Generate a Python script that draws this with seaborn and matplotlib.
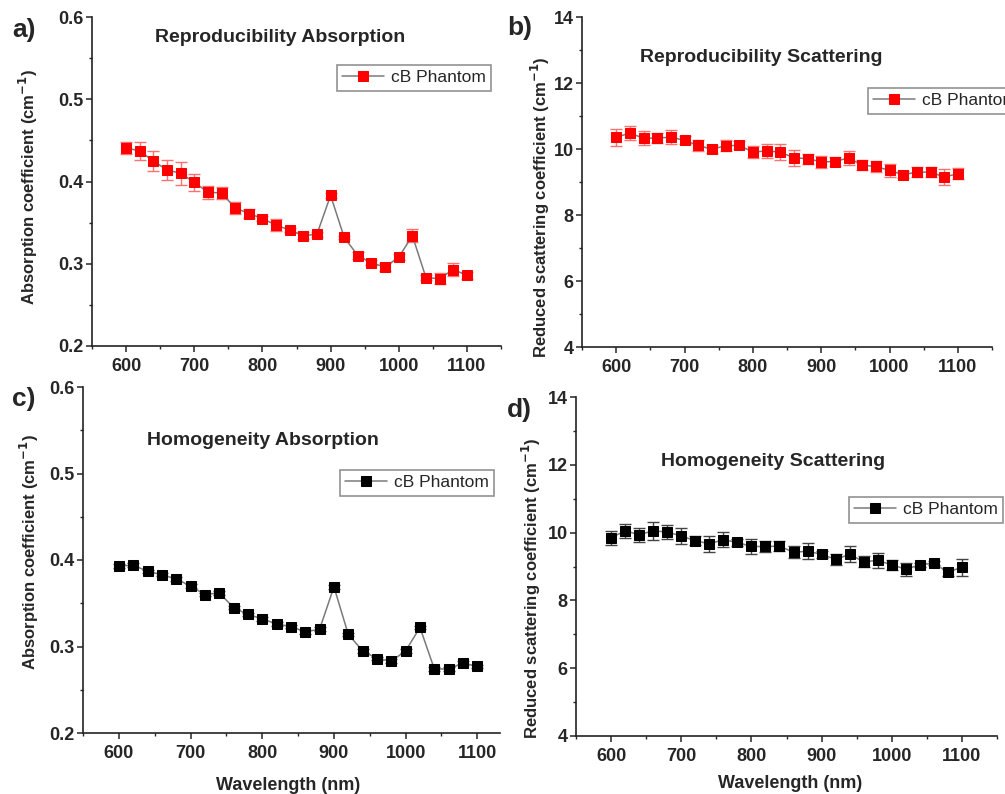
import matplotlib
matplotlib.use("Agg")
import matplotlib.pyplot as plt
import seaborn as sb
import numpy as np
import pandas as pd
from matplotlib.ticker import MultipleLocator, FormatStrFormatter

# wavelengths (nm) shared by all four panels
wavelength = [600, 620, 640, 660, 680, 700, 720, 740, 760, 780, 800, 820, 840,
              860, 880, 900, 920, 940, 960, 980, 1000, 1020, 1040, 1060, 1080, 1100]

# a) reproducibility absorption
repAbs = [0.441, 0.437, 0.425, 0.414, 0.410, 0.399, 0.387, 0.386, 0.368, 0.361, 0.355, 0.347, 0.341,
          0.334, 0.336, 0.383, 0.332, 0.310, 0.301, 0.296, 0.308, 0.334, 0.283, 0.282, 0.293, 0.286]
repAbsErr = [0.007, 0.011, 0.012, 0.012, 0.014, 0.010, 0.008, 0.007, 0.007, 0.005, 0.003, 0.007, 0.002,
             0.004, 0.003, 0.003, 0.002, 0.004, 0.003, 0.005, 0.004, 0.008, 0.003, 0.007, 0.008, 0.004]

# b) reproducibility scattering
repSca = [10.36, 10.48, 10.33, 10.33, 10.36, 10.26, 10.11, 9.99, 10.10, 10.11, 9.91, 9.94, 9.91,
          9.73, 9.71, 9.61, 9.62, 9.73, 9.51, 9.47, 9.35, 9.22, 9.30, 9.30, 9.15, 9.25]
repScaErr = [0.26, 0.21, 0.22, 0.15, 0.22, 0.12, 0.17, 0.12, 0.17, 0.12, 0.18, 0.21, 0.23,
             0.24, 0.15, 0.18, 0.14, 0.22, 0.15, 0.18, 0.21, 0.11, 0.15, 0.15, 0.24, 0.17]

# c) homogeneity absorption
homAbs = [0.393, 0.394, 0.387, 0.383, 0.378, 0.370, 0.360, 0.362, 0.345, 0.337, 0.332, 0.326, 0.323,
          0.317, 0.320, 0.369, 0.314, 0.295, 0.286, 0.283, 0.295, 0.322, 0.274, 0.274, 0.281, 0.277]
homAbsErr = [0.002] * 26

# d) homogeneity scattering
homSca = [9.85, 10.05, 9.94, 10.05, 10.02, 9.90, 9.76, 9.67, 9.79, 9.71, 9.59, 9.59, 9.60,
          9.42, 9.45, 9.36, 9.21, 9.36, 9.14, 9.18, 9.05, 8.92, 9.05, 9.10, 8.83, 8.98]
homScaErr = [0.21, 0.20, 0.21, 0.27, 0.20, 0.23, 0.14, 0.23, 0.22, 0.11, 0.21, 0.15, 0.14,
             0.17, 0.23, 0.10, 0.17, 0.23, 0.16, 0.22, 0.14, 0.19, 0.05, 0.05, 0.11, 0.25]

sb.set_style("ticks")
plt.rcParams['font.family'] = ['Liberation Sans', 'DejaVu Sans']
plt.rcParams['mathtext.fontset'] = 'dejavusans'

W, H = 1005, 794
fig = plt.figure(figsize=(W / 100, H / 100), dpi=100)


def pxAxes(left, top, right, bottom):
    """add axes using pixel box of the reference image"""
    return fig.add_axes([left / W, 1 - bottom / H, (right - left) / W, (bottom - top) / H])


def pxText(x, y, s, **kw):
    fig.text(x / W, 1 - y / H, s, **kw)


def drawPanel(ax, yvals, errs, markerColor, errColor, ylim, ymajor, yfmt, xmax, legendPos):
    df = pd.DataFrame({"wavelength": wavelength, "value": yvals, "err": errs})
    ax.errorbar(df["wavelength"], df["value"], yerr=df["err"], fmt='none',
                ecolor=errColor, elinewidth=1, capsize=4, capthick=1, zorder=2)
    sb.lineplot(data=df, x="wavelength", y="value", ax=ax, color='#7a7a7a', linewidth=1.1,
                marker='s', markersize=6.5, markerfacecolor=markerColor, markeredgecolor=markerColor,
                label="cB Phantom", zorder=3)
    ax.set_xlim(550, xmax)
    ax.set_ylim(*ylim)
    ax.xaxis.set_major_locator(MultipleLocator(100))
    ax.xaxis.set_minor_locator(MultipleLocator(50))
    ax.yaxis.set_major_locator(MultipleLocator(ymajor))
    ax.yaxis.set_minor_locator(MultipleLocator(ymajor / 2))
    ax.yaxis.set_major_formatter(FormatStrFormatter(yfmt))
    ax.tick_params(which='major', direction='out', length=4.5, width=1.1, labelsize=13, pad=1.5)
    ax.tick_params(which='minor', direction='out', length=2.5, width=1.0)
    ax.tick_params(axis='x', which='major', pad=4)
    for lab in ax.get_xticklabels() + ax.get_yticklabels():
        lab.set_fontweight('bold')
    for side in ['top', 'right']:
        ax.spines[side].set_visible(False)
    for side in ['left', 'bottom']:
        ax.spines[side].set_linewidth(1.2)
        ax.spines[side].set_color('#222222')
    ax.set_xlabel("")
    ax.set_ylabel("")
    leg = ax.legend(loc='upper left', bbox_to_anchor=(legendPos[0] / W, 1 - legendPos[1] / H),
                    bbox_transform=fig.transFigure, fontsize=12.5, frameon=True, fancybox=False,
                    handlelength=2.4, handletextpad=0.4, borderpad=0.3, borderaxespad=0)
    leg.get_frame().set_edgecolor('#777777')
    leg.get_frame().set_linewidth(1.2)


axA = pxAxes(92, 17, 501, 346)
drawPanel(axA, repAbs, repAbsErr, '#ff0000', '#ff7070', (0.2, 0.6), 0.1, '%.1f', 1150, (337, 65))

axB = pxAxes(582, 17, 992, 347)
drawPanel(axB, repSca, repScaErr, '#ff0000', '#ff7070', (4, 14), 2, '%d', 1150, (868, 88))

axC = pxAxes(83, 387, 500, 733)
drawPanel(axC, homAbs, homAbsErr, '#000000', '#444444', (0.2, 0.6), 0.1, '%.1f', 1131.6, (340, 470))

axD = pxAxes(576, 397, 997, 736)
drawPanel(axD, homSca, homScaErr, '#000000', '#444444', (4, 14), 2, '%d', 1150, (849, 497))

# panel letters
pxText(12, 30, "a)", fontsize=19, fontweight='bold', va='center', ha='left')
pxText(507, 28, "b)", fontsize=19, fontweight='bold', va='center', ha='left')
pxText(12, 399, "c)", fontsize=19, fontweight='bold', va='center', ha='left')
pxText(507, 410, "d)", fontsize=19, fontweight='bold', va='center', ha='left')

# titles
pxText(280, 38, "Reproducibility Absorption", fontsize=14, fontweight='bold', ha='center', va='center')
pxText(761, 57, "Reproducibility Scattering", fontsize=14, fontweight='bold', ha='center', va='center')
pxText(263, 441, "Homogeneity Absorption", fontsize=14, fontweight='bold', ha='center', va='center')
pxText(773, 461, "Homogeneity Scattering", fontsize=14, fontweight='bold', ha='center', va='center')

# y labels
absLabel = r"Absorption coefficient (cm$^{\mathbf{-1}}$)"
scaLabel = r"Reduced scattering coefficient (cm$^{\mathbf{-1}}$)"
pxText(28, 187, absLabel, fontsize=12, fontweight='bold', rotation=90, ha='center', va='center')
pxText(540, 207, scaLabel, fontsize=12, fontweight='bold', rotation=90, ha='center', va='center')
pxText(29, 552, absLabel, fontsize=12, fontweight='bold', rotation=90, ha='center', va='center')
pxText(531, 588, scaLabel, fontsize=12, fontweight='bold', rotation=90, ha='center', va='center')

# x labels
pxText(288, 785, "Wavelength (nm)", fontsize=13, fontweight='bold', ha='center', va='center')
pxText(790, 783, "Wavelength (nm)", fontsize=13, fontweight='bold', ha='center', va='center')

fig.savefig("out.png", dpi=100)
